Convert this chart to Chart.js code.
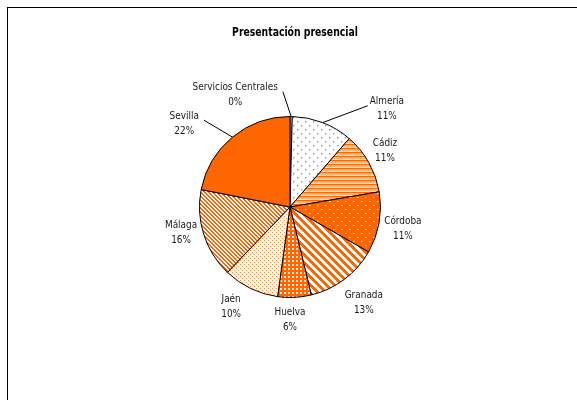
<!DOCTYPE html>
<html>
<head>
<meta charset="utf-8">
<script src="https://cdn.jsdelivr.net/npm/chart.js@4/dist/chart.umd.min.js"></script>
<style>
  html, body { margin: 0; padding: 0; background: #fff; }
</style>
</head>
<body>
<canvas id="myChart" width="577" height="400"></canvas>
<script>
var titulo = 'Presentación presencial';
var provincias = ['Servicios Centrales', 'Almería', 'Cádiz', 'Córdoba', 'Granada', 'Huelva', 'Jaén', 'Málaga', 'Sevilla'];
var porcentajes = [0.4, 11, 11, 11, 13, 6, 10, 16, 22];

// where each label sits: angle from 12 o'clock (clockwise) and distance from the centre
var etiquetaAngulo = [334, 44.6, 59.3, 101, 142.4, 180, 210.5, 256.6, 308.4];
var etiquetaDist = [125, 138, 110.5, 115, 121, 113, 116, 112, 135];
var conLinea = [true, true, false, false, false, false, false, false, true];

var naranja = '#FF6600';
var fuente = '"Liberation Sans Narrow", "DejaVu Sans Condensed", "Roboto Condensed", sans-serif';

function trama(w, h, fondo, pintar) {
    var c = document.createElement('canvas');
    c.width = w; c.height = h;
    var g = c.getContext('2d');
    g.fillStyle = fondo;
    g.fillRect(0, 0, w, h);
    pintar(g);
    return g.createPattern(c, 'repeat');
}

function diagonal(g, w, periodo, ancho, color) {
    g.fillStyle = color;
    for (var y = 0; y < w; y++) {
        for (var x = 0; x < w; x++) {
            if (((x - y) % periodo + periodo) % periodo < ancho) g.fillRect(x, y, 1, 1);
        }
    }
}

// text squeezed horizontally, the fonts on hand are wider than the narrow face
function textoEstrecho(ctx, txt, x, y, escala) {
    ctx.save();
    ctx.translate(x, y);
    ctx.scale(escala, 1);
    ctx.fillText(txt, 0, 0);
    ctx.restore();
}

var colores = [
    // Servicios Centrales
    '#ffffff',
    // Almería - puntos sueltos
    trama(8, 8, '#ffffff', function(g) {
        g.fillStyle = '#FF7a25';
        g.fillRect(1, 1, 1, 1); g.fillRect(5, 5, 1, 1);
        g.fillStyle = '#FFbb90';
        g.fillRect(2, 1, 1, 1); g.fillRect(6, 5, 1, 1);
        g.fillRect(1, 2, 1, 1); g.fillRect(5, 6, 1, 1);
    }),
    // Cádiz - rayas horizontales
    trama(4, 4, '#FFB27F', function(g) {
        g.fillStyle = naranja; g.fillRect(0, 0, 4, 1);
        g.fillStyle = '#FFE6D5'; g.fillRect(0, 3, 4, 1);
    }),
    // Córdoba - naranja con puntos blancos
    trama(8, 8, naranja, function(g) {
        g.fillStyle = '#ffffff';
        g.fillRect(1, 1, 1, 1); g.fillRect(5, 5, 1, 1);
        g.fillStyle = '#FFb080';
        g.fillRect(2, 1, 1, 1); g.fillRect(6, 5, 1, 1);
    }),
    // Granada - diagonal ancha
    trama(8, 8, '#ffffff', function(g) { diagonal(g, 8, 8, 4, naranja); }),
    // Huelva - rejilla
    trama(4, 4, naranja, function(g) {
        g.fillStyle = '#FFE4D0';
        g.fillRect(0, 0, 2, 2);
    }),
    // Jaén - puntos finos
    trama(4, 4, '#ffffff', function(g) {
        g.fillStyle = '#FF8a40';
        g.fillRect(0, 0, 1, 1); g.fillRect(2, 2, 1, 1);
    }),
    // Málaga - diagonal fina
    trama(4, 4, '#ffffff', function(g) { diagonal(g, 4, 4, 2, naranja); }),
    // Sevilla
    naranja
];

var total = porcentajes.reduce(function(a, b) { return a + b; }, 0);

var etiquetas = {
    id: 'etiquetas',
    beforeDraw: function(chart) {
        var ctx = chart.ctx;
        ctx.save();
        ctx.fillStyle = '#ffffff';
        ctx.fillRect(0, 0, chart.width, chart.height);
        ctx.strokeStyle = '#000';
        ctx.lineWidth = 1;
        ctx.strokeRect(7.5, 7.5, 700, 500);
        ctx.fillStyle = '#000';
        ctx.font = 'bold 12px ' + fuente;
        ctx.textAlign = 'center';
        ctx.textBaseline = 'middle';
        textoEstrecho(ctx, titulo, 295, 33, 0.86);
        ctx.restore();
    },
    afterDatasetsDraw: function(chart) {
        var ctx = chart.ctx;
        var meta = chart.getDatasetMeta(0);
        var escala = 0.9;
        ctx.save();
        ctx.font = '11px ' + fuente;
        ctx.textAlign = 'center';
        ctx.textBaseline = 'middle';
        meta.data.forEach(function(arc, i) {
            var a = etiquetaAngulo[i] * Math.PI / 180;
            var tx = arc.x + etiquetaDist[i] * Math.sin(a);
            var ty = arc.y - etiquetaDist[i] * Math.cos(a);
            var pct = Math.round(porcentajes[i] / total * 100) + '%';
            ctx.fillStyle = '#1a1a1a';
            textoEstrecho(ctx, provincias[i], tx, ty - 7.5, escala);
            textoEstrecho(ctx, pct, tx, ty + 7.5, escala);
            if (conLinea[i]) {
                var medio = (arc.startAngle + arc.endAngle) / 2;
                var x0 = arc.x + arc.outerRadius * Math.cos(medio);
                var y0 = arc.y + arc.outerRadius * Math.sin(medio);
                var w = ctx.measureText(provincias[i]).width * escala;
                var x1 = tx < arc.x ? tx + w / 2 + 5 : tx - w / 2 - 2;
                ctx.strokeStyle = '#000';
                ctx.lineWidth = 1;
                ctx.beginPath();
                ctx.moveTo(x0, y0);
                ctx.lineTo(x1, ty - 3);
                ctx.stroke();
            }
        });
        ctx.restore();
    }
};

var ctx = document.getElementById('myChart').getContext('2d');
var myChart = new Chart(ctx, {
    type: 'pie',
    data: {
        labels: provincias,
        datasets: [{
            data: porcentajes,
            backgroundColor: colores,
            borderColor: '#000000',
            borderWidth: 1
        }]
    },
    options: {
        responsive: false,
        animation: false,
        devicePixelRatio: 1,
        layout: { padding: { left: 199, right: 196, top: 116, bottom: 102 } },
        plugins: {
            legend: { display: false },
            tooltip: { enabled: false },
            title: { display: false }
        }
    },
    plugins: [etiquetas]
});
</script>
</body>
</html>
